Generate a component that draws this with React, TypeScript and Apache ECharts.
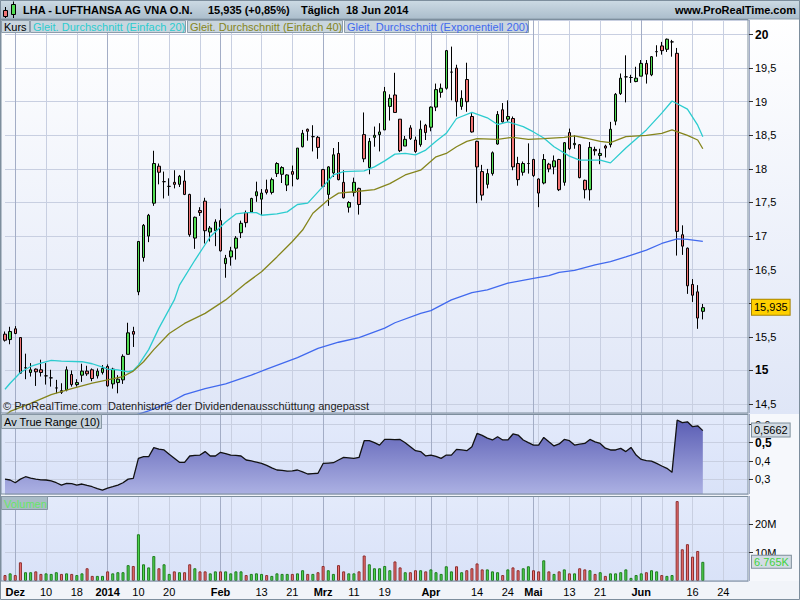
import React, { useEffect, useRef } from 'react';
import * as echarts from 'echarts';

const FONT = '"Liberation Sans", Arial, Helvetica, sans-serif';

// Xetra trading calendar (closed days) for the period shown
const HOLIDAYS = ['2013-12-24', '2013-12-25', '2013-12-26', '2013-12-31', '2014-01-01', '2014-04-18', '2014-04-21', '2014-05-01'];
const AXIS_START = '2013-11-28';
const AXIS_END = '2014-07-01';

const MONTHS_DE = ['Jan', 'Feb', 'Mrz', 'Apr', 'Mai', 'Jun', 'Jul', 'Aug', 'Sep', 'Okt', 'Nov', 'Dez'];

// dates that carry a label on the time axis
const TICK_LABEL_DATES = [
  '2013-12-02', '2013-12-10', '2013-12-18', '2014-01-02', '2014-01-10', '2014-01-20',
  '2014-02-03', '2014-02-13', '2014-02-21', '2014-03-03', '2014-03-11', '2014-03-19',
  '2014-04-01', '2014-04-14', '2014-04-24', '2014-05-02', '2014-05-13', '2014-05-21',
  '2014-06-02', '2014-06-16', '2014-06-24',
];

// OHLC, Nov 28 2013 .. Jun 18 2014
const OPEN = [
  15.54, 15.46, 15.62, 15.49, 15.04, 14.97, 15.02, 15.01, 14.92, 14.89,
  14.74, 14.70, 14.71, 14.94, 14.79, 14.93, 14.99, 15.01, 14.92, 14.97,
  15.06, 14.80, 14.82, 14.86, 15.24, 15.58, 16.17, 16.68, 17.00, 17.49,
  18.04, 17.81, 17.74, 17.80, 17.77, 17.82, 17.62, 16.97, 17.38, 17.52,
  17.06, 17.08, 17.23, 16.59, 16.69, 16.82, 17.05, 17.35, 17.36, 17.60,
  17.55, 17.69, 17.65, 17.93, 17.92, 17.76, 17.96, 17.85, 18.33, 18.59,
  18.48, 18.47, 17.99, 17.62, 17.94, 18.23, 17.80, 17.43, 17.65, 17.71,
  18.51, 18.02, 18.47, 18.51, 18.58, 18.93, 19.10, 18.74, 18.34, 18.61,
  18.43, 18.36, 18.65, 18.62, 18.92, 19.14, 19.20, 19.44, 19.50, 18.93,
  19.33, 18.78, 18.41, 17.96, 17.77, 17.93, 18.37, 18.88, 18.74, 18.75,
  18.08, 17.95, 18.08, 18.14, 17.85, 17.79, 18.07, 18.03, 18.14, 17.80,
  18.54, 18.36, 18.36, 17.83, 17.69, 18.29, 18.20, 18.34, 18.36, 18.71,
  19.12, 19.37, 19.36, 19.30, 19.38, 19.57, 19.40, 19.745, 19.83, 19.78,
  19.89, 19.72, 17.02, 16.82, 16.28, 16.17, 15.88,
];
const HIGH = [
  15.58, 15.65, 15.66, 15.49, 15.25, 15.11, 15.03, 15.16, 15.11, 15.01,
  14.86, 14.81, 15.06, 15.00, 14.87, 15.10, 15.07, 15.03, 15.03, 15.08,
  15.09, 15.04, 14.93, 15.24, 15.71, 15.65, 16.92, 17.18, 17.33, 18.27,
  18.08, 17.96, 17.86, 17.98, 17.91, 17.98, 17.63, 17.29, 17.43, 17.57,
  17.15, 17.25, 17.41, 16.72, 16.84, 17.00, 17.23, 17.38, 17.57, 17.81,
  17.70, 17.84, 17.87, 18.10, 18.04, 17.92, 18.05, 18.31, 18.58, 18.60,
  18.65, 18.49, 18.00, 18.04, 18.31, 18.40, 17.98, 17.52, 17.87, 17.72,
  18.84, 18.46, 18.63, 18.68, 19.22, 19.11, 19.43, 18.74, 18.49, 18.65,
  18.48, 18.72, 18.67, 18.93, 19.27, 19.27, 19.77, 19.82, 19.55, 19.17,
  19.58, 18.83, 18.42, 18.06, 18.00, 18.26, 18.86, 18.98, 19.02, 18.78,
  18.18, 18.11, 18.38, 18.15, 17.86, 18.22, 18.09, 18.20, 18.15, 18.40,
  18.60, 18.50, 18.37, 17.84, 18.40, 18.33, 18.30, 18.36, 18.70, 19.13,
  19.42, 19.69, 19.40, 19.52, 19.62, 19.62, 19.68, 19.84, 19.89, 19.94,
  19.92, 19.80, 17.16, 16.83, 16.36, 16.27, 15.99,
];
const LOW = [
  15.43, 15.39, 15.54, 14.95, 14.87, 14.91, 14.77, 14.91, 14.79, 14.76,
  14.66, 14.65, 14.69, 14.76, 14.76, 14.83, 14.92, 14.84, 14.88, 14.94,
  14.76, 14.73, 14.66, 14.80, 15.24, 15.35, 16.12, 16.62, 16.91, 17.45,
  17.77, 17.56, 17.60, 17.71, 17.73, 17.61, 16.99, 16.81, 17.30, 16.89,
  16.92, 16.85, 16.77, 16.38, 16.56, 16.65, 16.97, 17.13, 17.35, 17.51,
  17.31, 17.62, 17.62, 17.88, 17.79, 17.67, 17.74, 17.84, 18.32, 18.42,
  18.26, 18.15, 17.73, 17.45, 17.88, 17.83, 17.56, 17.35, 17.59, 17.32,
  18.10, 17.92, 18.33, 18.26, 18.58, 18.72, 18.84, 18.25, 18.34, 18.43,
  18.24, 18.33, 18.43, 18.56, 18.86, 19.06, 19.18, 19.02, 18.78, 18.88,
  18.85, 18.54, 17.49, 17.53, 17.71, 17.90, 18.36, 18.69, 18.70, 17.98,
  17.75, 17.90, 17.93, 17.88, 17.43, 17.77, 17.95, 17.92, 17.67, 17.75,
  18.28, 18.30, 17.86, 17.56, 17.53, 18.20, 18.07, 18.17, 18.32, 18.65,
  19.10, 18.99, 19.28, 19.29, 19.38, 19.27, 19.38, 19.67, 19.70, 19.74,
  19.67, 16.71, 16.72, 16.14, 16.02, 15.62, 15.76,
];
const CLOSE = [
  15.45, 15.58, 15.55, 14.96, 15.04, 15.01, 14.98, 14.97, 14.92, 14.89,
  14.74, 14.675, 15.01, 14.79, 14.82, 14.99, 14.95, 14.88, 14.99, 15.03,
  14.77, 15.02, 14.87, 15.21, 15.56, 15.54, 16.92, 17.16, 17.31, 18.08,
  17.95, 17.81, 17.74, 17.77, 17.89, 17.62, 17.02, 17.28, 17.35, 17.08,
  17.12, 17.21, 16.78, 16.67, 16.78, 16.97, 17.19, 17.20, 17.56, 17.66,
  17.64, 17.65, 17.84, 18.08, 18.02, 17.91, 17.92, 18.31, 18.53, 18.56,
  18.48, 18.32, 17.74, 18.03, 18.21, 17.84, 17.57, 17.50, 17.80, 17.47,
  18.15, 18.41, 18.50, 18.55, 19.15, 19.05, 18.84, 18.27, 18.44, 18.45,
  18.26, 18.59, 18.54, 18.92, 19.18, 19.20, 19.76, 19.44, 19.00, 19.05,
  19.00, 18.55, 18.03, 17.61, 17.93, 18.24, 18.81, 18.70, 18.78, 18.03,
  17.84, 18.08, 18.08, 17.90, 17.64, 18.14, 18.00, 18.12, 17.69, 18.39,
  18.30, 18.38, 17.87, 17.69, 18.32, 18.27, 18.23, 18.31, 18.59, 19.11,
  19.35, 19.37, 19.36, 19.35, 19.57, 19.41, 19.67, 19.745, 19.76, 19.93,
  19.89, 17.07, 16.85, 16.26, 16.12, 15.78, 15.935,
];

// volume, millions of shares
const VOLUME_M = [
  2.1, 2.7, 2.1, 6.6, 3.1, 3.1, 3.4, 2.5, 2.7, 2.5,
  3.1, 2.5, 2.7, 2.5, 2.1, 2.7, 4.5, 1.8, 1.8, 1.8,
  3.4, 2.7, 3.1, 3.1, 5.6, 5.3, 16.5, 5.9, 4.8, 8.8,
  4.5, 5.9, 2.5, 3.4, 3.1, 3.1, 5.9, 4.5, 3.4, 3.4,
  2.7, 3.4, 3.4, 3.4, 2.7, 3.4, 3.4, 2.1, 2.5, 2.7,
  2.5, 2.1, 1.8, 2.7, 2.5, 2.5, 2.5, 2.7, 3.8, 2.5,
  2.5, 3.1, 5.3, 3.8, 2.5, 5.6, 3.4, 2.7, 2.7, 3.4,
  9.0, 5.9, 4.5, 4.5, 5.3, 3.8, 6.9, 4.8, 3.1, 3.1,
  3.8, 3.8, 3.4, 4.1, 3.1, 2.5, 5.2, 3.4, 5.2, 3.1,
  3.8, 4.5, 6.2, 4.1, 4.1, 3.4, 3.1, 2.1, 4.1, 4.8,
  3.8, 4.5, 5.2, 3.8, 3.4, 7.3, 3.4, 2.5, 3.4, 4.1,
  2.7, 2.7, 4.5, 4.1, 3.8, 2.5, 3.1, 1.8, 2.7, 2.7,
  3.1, 4.1, 1.1, 2.1, 2.7, 3.1, 3.8, 3.4, 2.1, 1.8,
  2.1, 28.2, 11.2, 13.0, 8.6, 10.6, 6.765,
];

// Average True Range (10)
const ATR = [
  0.300, 0.295, 0.280, 0.300, 0.313, 0.305, 0.300, 0.296, 0.295, 0.290,
  0.280, 0.267, 0.277, 0.275, 0.267, 0.273, 0.265, 0.258, 0.248, 0.240,
  0.250, 0.258, 0.267, 0.280, 0.300, 0.304, 0.414, 0.423, 0.423, 0.473,
  0.465, 0.460, 0.436, 0.415, 0.392, 0.392, 0.427, 0.430, 0.432, 0.451,
  0.427, 0.427, 0.447, 0.440, 0.432, 0.430, 0.427, 0.405, 0.400, 0.393,
  0.386, 0.375, 0.362, 0.350, 0.348, 0.344, 0.345, 0.350, 0.340, 0.328,
  0.330, 0.332, 0.386, 0.388, 0.390, 0.405, 0.419, 0.417, 0.414, 0.419,
  0.511, 0.511, 0.500, 0.487, 0.518, 0.518, 0.517, 0.518, 0.500, 0.478,
  0.456, 0.451, 0.427, 0.432, 0.425, 0.414, 0.432, 0.432, 0.463, 0.460,
  0.456, 0.478, 0.551, 0.540, 0.525, 0.515, 0.533, 0.515, 0.515, 0.548,
  0.542, 0.515, 0.500, 0.487, 0.487, 0.529, 0.505, 0.482, 0.493, 0.518,
  0.511, 0.487, 0.492, 0.496, 0.518, 0.505, 0.496, 0.470, 0.460, 0.460,
  0.469, 0.451, 0.474, 0.432, 0.408, 0.401, 0.399, 0.386, 0.372, 0.359,
  0.337, 0.625, 0.610, 0.615, 0.588, 0.593, 0.5662,
];

// moving averages: [bar index, value]
const SMA20 = [
  [0, 14.72], [1, 14.81], [3, 14.97], [5, 15.06], [7, 15.11], [9, 15.15], [11, 15.14], [15, 15.13],
  [17, 15.10], [19, 15.05], [20, 15.02], [22, 15.01], [24, 14.98], [25, 15.00], [26, 15.08], [28, 15.31],
  [30, 15.63], [33, 16.05], [34, 16.27], [37, 16.64], [40, 16.99], [43, 17.21], [45, 17.33], [47, 17.35],
  [49, 17.35], [50, 17.31], [53, 17.33], [55, 17.36], [57, 17.47], [59, 17.49], [62, 17.74], [64, 17.91],
  [66, 17.96], [70, 17.97], [72, 18.03], [74, 18.12], [76, 18.22], [78, 18.23], [80, 18.21], [82, 18.28],
  [84, 18.41], [86, 18.53], [88, 18.75], [91, 18.84], [94, 18.76], [96, 18.66], [98, 18.70], [101, 18.63],
  [103, 18.55], [105, 18.46], [107, 18.33], [110, 18.19], [112, 18.13], [116, 18.13], [118, 18.09],
  [121, 18.31], [125, 18.58], [128, 18.83], [130, 19.01], [133, 18.89], [135, 18.65], [136, 18.48],
];
const SMA40 = [
  [0, 14.33], [1, 14.39], [5, 14.51], [9, 14.64], [13, 14.73], [17, 14.81], [20, 14.86], [23, 14.91],
  [25, 14.99], [27, 15.13], [29, 15.31], [32, 15.55], [35, 15.70], [39, 15.85], [43, 16.05], [47, 16.30],
  [50, 16.47], [53, 16.69], [56, 16.92], [58, 17.09], [60, 17.34], [63, 17.54], [65, 17.64], [68, 17.66],
  [72, 17.69], [75, 17.78], [78, 17.91], [81, 17.98], [84, 18.18], [86, 18.23], [88, 18.33], [90, 18.41],
  [92, 18.45], [96, 18.44], [99, 18.47], [102, 18.44], [105, 18.45], [109, 18.47], [111, 18.49],
  [113, 18.46], [116, 18.41], [118, 18.39], [121, 18.48], [125, 18.50], [128, 18.53], [130, 18.58],
  [133, 18.50], [135, 18.43], [136, 18.30],
];
const EMA200 = [
  [24, 14.30], [28, 14.40], [32, 14.52], [35, 14.64], [39, 14.73], [43, 14.80], [48, 14.93], [51, 15.02],
  [57, 15.19], [61, 15.33], [65, 15.42], [69, 15.49], [74, 15.63], [76, 15.71], [81, 15.85], [83, 15.89],
  [87, 16.05], [91, 16.16], [94, 16.20], [98, 16.30], [103, 16.37], [106, 16.41], [108, 16.46],
  [111, 16.49], [115, 16.57], [118, 16.62], [121, 16.69], [125, 16.79], [128, 16.89], [131, 16.96],
  [133, 16.95], [136, 16.92],
];

const LEGEND_ITEMS = [
  { label: 'Kurs', color: '#000000', x: 1, w: 28 },
  { label: 'Gleit. Durchschnitt (Einfach 20)', color: '#2ccccf', x: 30, w: 155 },
  { label: 'Gleit. Durchschnitt (Einfach 40)', color: '#85851c', x: 187, w: 155 },
  { label: 'Gleit. Durchschnitt (Exponentiell 200)', color: '#4169ee', x: 344, w: 184 },
];

const TITLE = 'LHA - LUFTHANSA AG VNA O.N.';
const LAST_TEXT = '15,935 (+0,85%)';
const PERIOD = 'Täglich';
const DATE_TEXT = '18 Jun 2014';
const SITE = 'www.ProRealTime.com';
const NOTE = '© ProRealTime.com  Datenhistorie der Dividendenausschüttung angepasst';
const ATR_TITLE = 'Av True Range (10)';
const VOL_TITLE = 'Volumen';
const VOL_LAST_LABEL = '6.765K';

const UP = '#52dc52';
const DOWN = '#f07474';

function tradingDays(): string[] {
  const out: string[] = [];
  const d = new Date(AXIS_START + 'T00:00:00Z');
  const end = new Date(AXIS_END + 'T00:00:00Z').getTime();
  while (d.getTime() <= end) {
    const wd = d.getUTCDay();
    const s = d.toISOString().slice(0, 10);
    if (wd !== 0 && wd !== 6 && HOLIDAYS.indexOf(s) < 0) out.push(s);
    d.setUTCDate(d.getUTCDate() + 1);
  }
  return out;
}

const comma = (v: number) => String(Math.round(v * 10000) / 10000).replace('.', ',');

function buildOption() {
  const days = tradingDays();
  const monthStart = new Set<number>();
  days.forEach((s, i) => {
    if (i > 0 && s.slice(5, 7) !== days[i - 1].slice(5, 7)) monthStart.add(i);
  });
  const tickSet = new Set(TICK_LABEL_DATES);
  const minorLine = (i: number) => i >= 2 && (i - 2) % 6 === 0;

  const labelFmt = (value: string) => {
    const i = days.indexOf(value);
    if (monthStart.has(i)) {
      const m = Number(value.slice(5, 7));
      return m === 1 ? '{b|' + value.slice(0, 4) + '}' : '{b|' + MONTHS_DE[m - 1] + '}';
    }
    return String(Number(value.slice(8, 10)));
  };

  const grids = [
    { left: 5, top: 20, width: 744, height: 393 },
    { left: 5, top: 414, width: 744, height: 80 },
    { left: 5, top: 496, width: 744, height: 85 },
  ];

  const xAxes: any[] = [];
  grids.forEach((_, g) => {
    xAxes.push({
      type: 'category', gridIndex: g, data: days, boundaryGap: false,
      axisLine: { show: false }, axisTick: { show: false },
      axisLabel: g === 2 ? {
        show: true, interval: (_i: number, v: string) => tickSet.has(v), formatter: labelFmt,
        color: '#000', fontSize: 11, fontFamily: FONT, margin: 5,
        rich: { b: { fontWeight: 'bold', fontSize: 11, fontFamily: FONT, color: '#000' } },
      } : { show: false },
      splitLine: { show: true, interval: (i: number) => minorLine(i), lineStyle: { color: '#c8cfe1', width: 1 } },
    });
    xAxes.push({
      type: 'category', gridIndex: g, data: days, boundaryGap: false,
      axisLine: { show: false }, axisTick: { show: false }, axisLabel: { show: false },
      splitLine: { show: true, interval: (i: number) => monthStart.has(i), lineStyle: { color: '#a3adc6', width: 1 } },
    });
  });

  const yLabelBase = { color: '#000', fontSize: 11, fontFamily: FONT, margin: 6, showMinLabel: false, showMaxLabel: false };
  const yAxes = [
    {
      type: 'value', gridIndex: 0, position: 'right', min: 14.367, max: 20.216, splitNumber: 12,
      minInterval: 0.5, maxInterval: 0.5,
      axisLine: { show: false }, axisTick: { show: true, length: 4, lineStyle: { color: '#333' } },
      axisLabel: {
        ...yLabelBase,
        formatter: (v: number) => (Math.abs(v % 5) < 1e-9 ? '{b|' + comma(v) + '}' : comma(v)),
        rich: { b: { fontWeight: 'bold', fontSize: 12, fontFamily: FONT, color: '#000' } },
      },
      splitLine: { show: true, lineStyle: { color: '#c8cfe1' } },
    },
    {
      type: 'value', gridIndex: 1, position: 'right', min: 0.2181, max: 0.6577, splitNumber: 4,
      minInterval: 0.1, maxInterval: 0.1,
      axisLine: { show: false }, axisTick: { show: true, length: 4, lineStyle: { color: '#333' } },
      axisLabel: {
        ...yLabelBase,
        formatter: (v: number) => (Math.abs(v - 0.5) < 1e-9 ? '{b|' + comma(v) + '}' : comma(v)),
        rich: { b: { fontWeight: 'bold', fontSize: 12, fontFamily: FONT, color: '#000' } },
      },
      splitLine: { show: true, lineStyle: { color: '#c8cfe1' } },
    },
    {
      type: 'value', gridIndex: 2, position: 'right', min: 0, max: 30e6, interval: 10e6,
      axisLine: { show: false }, axisTick: { show: true, length: 4, lineStyle: { color: '#333' } },
      axisLabel: { ...yLabelBase, formatter: (v: number) => v / 1e6 + 'M' },
      splitLine: { show: true, lineStyle: { color: '#c8cfe1' } },
    },
  ];

  const last = CLOSE.length - 1;
  const valueTag = (text: string, bg: string, fg: string, border: string, pad: number[]) => ({
    show: true, position: 'end', distance: 3, formatter: text,
    backgroundColor: bg, borderColor: border, borderWidth: 1, padding: pad,
    color: fg, fontSize: 11, fontFamily: FONT, lineHeight: 12,
  });

  const candles = OPEN.map((o, i) => [o, CLOSE[i], LOW[i], HIGH[i]]);
  const volume = VOLUME_M.map((v, i) => {
    const up = CLOSE[i] >= OPEN[i];
    return { value: v * 1e6, itemStyle: { color: up ? UP : DOWN, borderColor: up ? '#1d7a1d' : '#8c2c2c' } };
  });

  const maLine = (data: number[][], color: string) => ({
    type: 'line', xAxisIndex: 0, yAxisIndex: 0, data, symbol: 'none', z: 3,
    lineStyle: { color, width: 1.3 }, silent: true,
  });

  const series: any[] = [
    {
      type: 'candlestick', xAxisIndex: 0, yAxisIndex: 0, data: candles, barWidth: 3, clip: false,
      itemStyle: { color: UP, color0: DOWN, borderColor: '#000', borderColor0: '#000', borderColorDoji: '#000', borderWidth: 1 },
      markLine: {
        symbol: 'none', silent: true, z: 6,
        data: [{ yAxis: CLOSE[last], lineStyle: { color: 'rgba(0,0,0,0)' }, label: valueTag(comma(CLOSE[last]), '#ffd000', '#000', '#a88400', [2, 2, 1, 2]) }],
      },
    },
    maLine(SMA20, '#2ccccf'),
    maLine(SMA40, '#85851c'),
    maLine(EMA200, '#4169ee'),
    {
      type: 'line', xAxisIndex: 2, yAxisIndex: 1, data: ATR, symbol: 'none', silent: true,
      lineStyle: { color: '#111', width: 1.3 },
      areaStyle: {
        origin: 'start', opacity: 1,
        color: new echarts.graphic.LinearGradient(0, 0, 0, 1, [
          { offset: 0, color: '#5a5db4' }, { offset: 1, color: '#acb1e3' },
        ]),
      },
      markLine: {
        symbol: 'none', silent: true, z: 6,
        data: [{ yAxis: ATR[last], lineStyle: { color: 'rgba(0,0,0,0)' }, label: valueTag(comma(ATR[last]), '#d3dce4', '#000', '#7f8f9c', [1, 2, 0, 2]) }],
      },
    },
    {
      type: 'bar', xAxisIndex: 4, yAxisIndex: 2, data: volume, barWidth: 3, clip: false, silent: true,
      itemStyle: { borderWidth: 1 },
      markLine: {
        symbol: 'none', silent: true, z: 6,
        data: [{ yAxis: VOLUME_M[last] * 1e6, lineStyle: { color: 'rgba(0,0,0,0)' }, label: valueTag(VOL_LAST_LABEL, '#d3dce4', '#3fd23f', '#7f8f9c', [0, 2, 0, 2]) }],
      },
    },
  ];

  const txt = (x: number, y: number, text: string, fill = '#000', bold = false, align = 'left', size = 11) => ({
    type: 'text', x, y, z: 60, silent: true,
    style: {
      text, fill, fontSize: size, fontFamily: FONT, fontWeight: bold ? 'bold' : 'normal',
      align, verticalAlign: 'middle', textAlign: align, textVerticalAlign: 'middle',
    },
  });
  const rect = (x: number, y: number, w: number, h: number, style: any, z = 60) => ({
    type: 'rect', z, silent: true, shape: { x, y, width: w, height: h }, style,
  });
  const grad = (a: string, b: string) => new echarts.graphic.LinearGradient(0, 0, 0, 1, [{ offset: 0, color: a }, { offset: 1, color: b }]);

  const graphics: any[] = [
    rect(0, 0, 800, 600, { fill: '#f1f4f9' }, -20),
    rect(0, 19, 800, 395, { fill: grad('#ffffff', '#dfe6f7') }, -19),
    rect(1, 414, 747, 80, { fill: grad('#e3eafb', '#d9e2f8') }, -19),
    rect(1, 496, 747, 85, { fill: grad('#e3eafb', '#d9e2f8') }, -19),
    rect(748, 414, 52, 167, { fill: '#f6f8fc' }, -19),
    // header bar
    rect(0, 0, 800, 19, { fill: grad('#cddbe5', '#abbdcb'), stroke: '#8a9cab', lineWidth: 1 }, 55),
    // panel frames
    rect(1, 19.5, 747, 393.5, { fill: 'none', stroke: '#7d8e9d', lineWidth: 1 }, 58),
    rect(1, 414.5, 747, 79.5, { fill: 'none', stroke: '#7d8e9d', lineWidth: 1 }, 58),
    rect(1, 496.5, 747, 84.5, { fill: 'none', stroke: '#7d8e9d', lineWidth: 1 }, 58),
    rect(0.5, 0.5, 799, 599, { fill: 'none', stroke: '#7d8e9d', lineWidth: 1 }, 58),
    // header icon: two candles
    { type: 'line', z: 61, silent: true, shape: { x1: 5.5, y1: 7, x2: 5.5, y2: 18 }, style: { stroke: '#000', lineWidth: 1 } },
    rect(3.5, 10.5, 4, 6, { fill: DOWN, stroke: '#000', lineWidth: 1 }, 62),
    { type: 'line', z: 61, silent: true, shape: { x1: 13.5, y1: 1.5, x2: 13.5, y2: 18 }, style: { stroke: '#000', lineWidth: 1 } },
    rect(11.5, 4.5, 4, 10, { fill: UP, stroke: '#000', lineWidth: 1 }, 62),
    txt(23, 10, TITLE, '#000', true),
    txt(208, 10, LAST_TEXT, '#000', true),
    txt(301, 10, PERIOD, '#000', true),
    txt(346, 10, DATE_TEXT, '#000', true),
    txt(796, 10, SITE, '#000', true, 'right'),
    txt(3, 406, NOTE, '#222'),
    rect(1.5, 414.5, 100, 14, { fill: '#c6d2db', stroke: '#8797a4', lineWidth: 1 }),
    txt(4, 422, ATR_TITLE, '#000'),
    rect(1.5, 496.5, 46, 13, { fill: '#a9bcc7', stroke: '#8797a4', lineWidth: 1 }),
    txt(4, 503.5, VOL_TITLE, '#66e666'),
  ];
  LEGEND_ITEMS.forEach((it) => {
    graphics.push(rect(it.x + 0.5, 20.5, it.w, 12, { fill: '#c9d5de', stroke: '#8d9dab', lineWidth: 1 }));
    graphics.push(txt(it.x + 3, 27, it.label, it.color));
  });

  return {
    animation: false,
    textStyle: { fontFamily: FONT },
    grid: grids,
    xAxis: xAxes,
    yAxis: yAxes,
    series,
    graphic: { elements: graphics },
  };
}

export default function App() {
  const ref = useRef<HTMLDivElement>(null);
  useEffect(() => {
    const chart = echarts.init(ref.current as HTMLDivElement, null, { renderer: 'svg' });
    chart.setOption(buildOption() as any);
    return () => chart.dispose();
  }, []);
  return <div ref={ref} style={{ position: 'absolute', left: 0, top: 0, width: 800, height: 600 }} />;
}
